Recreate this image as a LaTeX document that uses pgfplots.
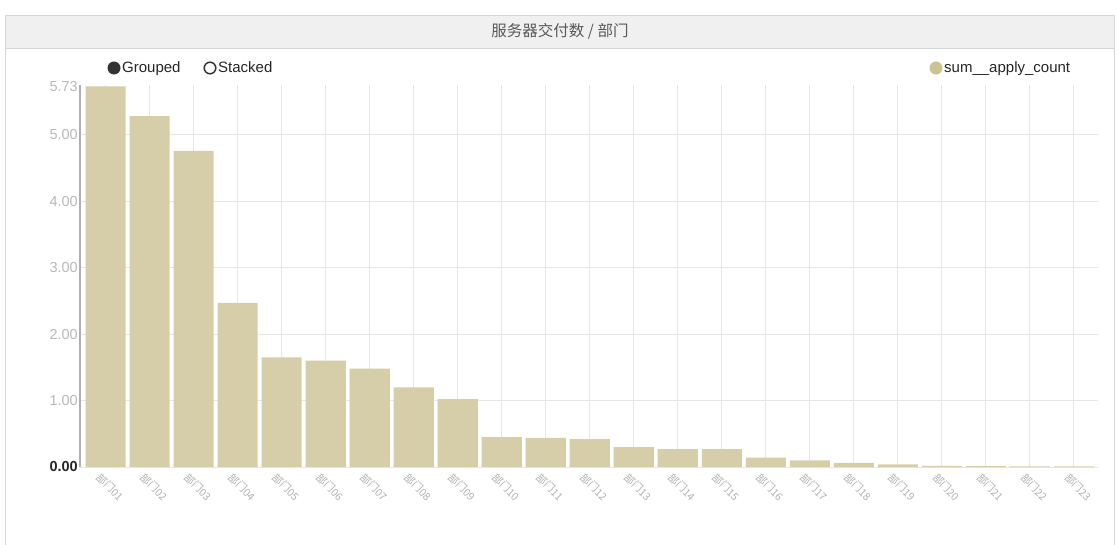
\documentclass[border=0pt]{standalone}
\usepackage{pgfplots}
\pgfplotsset{compat=1.18}
\usepackage{fontspec}
\setmainfont{Liberation Sans}
\newfontfamily\cjk{Noto Sans CJK SC}
\definecolor{barc}{RGB}{214,206,169}
\definecolor{legc}{RGB}{203,195,145}
\definecolor{gridc}{RGB}{230,230,230}
\definecolor{axisc}{RGB}{175,175,175}
\definecolor{titlebg}{RGB}{240,240,240}
\definecolor{framec}{RGB}{215,215,215}
\begin{document}
\begin{tikzpicture}[x=1pt,y=1pt]
\useasboundingbox (0,0) rectangle (1118,544);
\fill[white] (0,0) rectangle (1118,544);
\draw[framec, line width=1pt] (5.5,-5) rectangle (1114.5,528.5);
\fill[titlebg] (6,496) rectangle (1114,528);
\draw[framec] (6,496) -- (1114,496);
\node[font=\cjk\fontsize{15.5}{17}\selectfont, text=black!65] at (560,513) {服务器交付数 / 部门};
% legends
\fill[black!80] (114,476) circle (6.5);
\node[anchor=base west, inner sep=0pt, font=\fontsize{15}{17}\selectfont, text=black!85] at (122,471) {Grouped};
\draw[black!80, line width=1.5pt] (210,476) circle (5.8);
\node[anchor=base west, inner sep=0pt, font=\fontsize{15}{17}\selectfont, text=black!85] at (218,471) {Stacked};
\fill[legc] (936,476) circle (6.5);
\node[anchor=base west, inner sep=0pt, font=\fontsize{15}{17}\selectfont, text=black!85] at (944,471) {sum\_\_apply\_count};
\begin{axis}[
  at={(80pt,77pt)}, anchor=south west,
  scale only axis, width=1018pt, height=382pt,
  xmin=-0.584, xmax=22.55, ymin=0, ymax=5.75,
  axis x line=bottom, axis y line=left,
  axis line style={-},
  x axis line style={draw=none},
  y axis line style={axisc, line width=2pt},
  grid=major,
  major grid style={gridc, line width=0.8pt},
  major tick length=0pt,
  xtick={0,...,22},
  ytick={0,1,2,3,4,5},
  yticklabels={{\textcolor{black!85}{\bfseries 0.00}},1.00,2.00,3.00,4.00,5.00},
  yticklabel style={font=\fontsize{14.5}{16}\selectfont, text=gray!55, inner sep=2pt},
  extra y ticks={5.73},
  extra y tick labels={5.73},
  extra y tick style={grid=none},
  xticklabels={部门01,部门02,部门03,部门04,部门05,部门06,部门07,部门08,部门09,部门10,部门11,部门12,部门13,部门14,部门15,部门16,部门17,部门18,部门19,部门20,部门21,部门22,部门23},
  xticklabel style={font=\cjk\fontsize{10.5}{12}\selectfont, text=gray!60, rotate=-45, anchor=north west, inner sep=1pt, yshift=-5pt},
  clip=false,
]
\addplot[ybar, bar width=0.91, fill=barc, draw=none] coordinates {
(0,5.73) (1,5.28) (2,4.76) (3,2.47) (4,1.65) (5,1.60) (6,1.48) (7,1.20) (8,1.02)
(9,0.45) (10,0.44) (11,0.42) (12,0.30) (13,0.27) (14,0.27) (15,0.14) (16,0.10)
(17,0.063) (18,0.038) (19,0.018) (20,0.012) (21,0.010) (22,0.008)
};
\end{axis}
\end{tikzpicture}
\end{document}
